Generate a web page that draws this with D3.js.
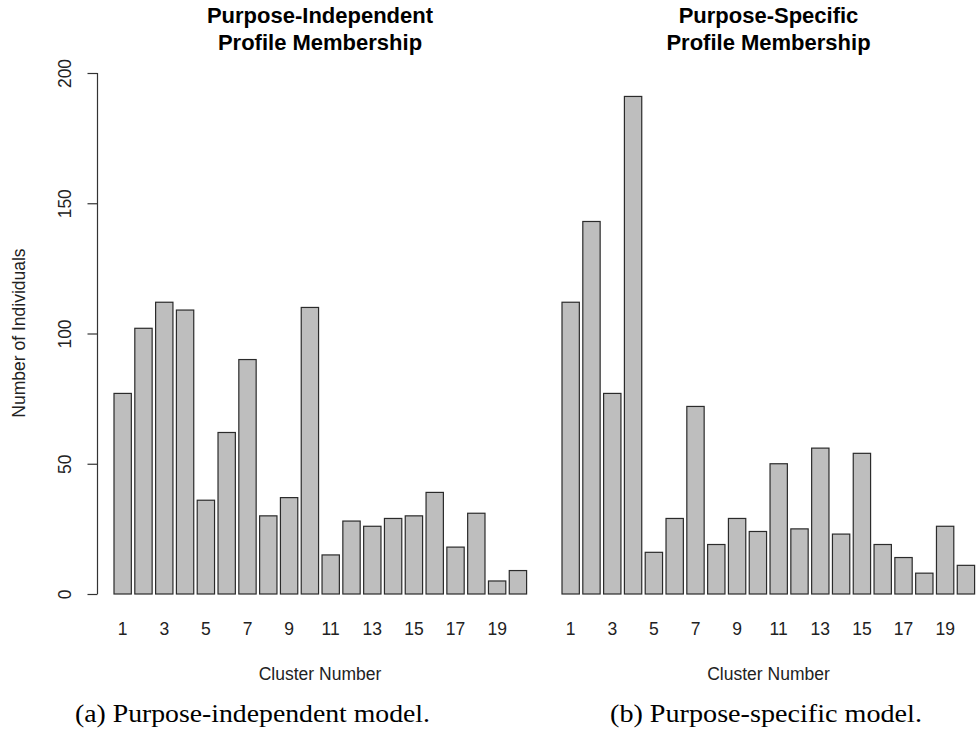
<!DOCTYPE html>
<html>
<head>
<meta charset="utf-8">
<script src="https://cdn.jsdelivr.net/npm/d3@7"></script>
<style>
  html, body { margin: 0; padding: 0; background: #ffffff; }
  svg { display: block; }
</style>
</head>
<body>
<svg id="chart" width="977" height="730"></svg>
<script>
// Cluster sizes for the two clustering models
const clusters = d3.range(1, 21);
const independentCounts = [77, 102, 112, 109, 36, 62, 90, 30, 37, 110, 15, 28, 26, 29, 30, 39, 18, 31, 5, 9];
const specificCounts = [112, 143, 77, 191, 16, 29, 72, 19, 29, 24, 50, 25, 56, 23, 54, 19, 14, 8, 26, 11];
const xTickLabels = [1, 3, 5, 7, 9, 11, 13, 15, 17, 19];
const yTicks = [0, 50, 100, 150, 200];
const titles = [["Purpose-Independent", "Profile Membership"], ["Purpose-Specific", "Profile Membership"]];
const captions = ["(a) Purpose-independent model.", "(b) Purpose-specific model."];
const xLabel = "Cluster Number";
const yLabel = "Number of Individuals";

const svg = d3.select("#chart");
const sans = "'Liberation Sans', Arial, Helvetica, sans-serif";
const serif = "'Liberation Serif', 'Times New Roman', serif";

const y = d3.scaleLinear().domain([0, 200]).range([594, 73]);

const panels = [
  { counts: independentCounts, bandLeft: 114, bandRight: 526.6, center: 320, axis: true,
    title: titles[0], caption: captions[0], capX: 75, capW: 355 },
  { counts: specificCounts, bandLeft: 562, bandRight: 974.6, center: 768.5, axis: false,
    title: titles[1], caption: captions[1], capX: 610, capW: 312 }
];

panels.forEach(p => {
  const g = svg.append("g");

  // bars: width 1, gap 0.2 (bar units)
  const x = d3.scaleBand()
    .domain(clusters)
    .range([p.bandLeft, p.bandRight])
    .paddingInner(0.2 / 1.2)
    .paddingOuter(0);

  g.selectAll("rect.bar")
    .data(p.counts)
    .join("rect")
    .attr("class", "bar")
    .attr("x", (d, i) => x(clusters[i]))
    .attr("y", d => y(d))
    .attr("width", x.bandwidth())
    .attr("height", d => y(0) - y(d))
    .attr("fill", "#bebebe")
    .attr("stroke", "#2b2b2b")
    .attr("stroke-width", 1.2);

  // cluster labels beneath the bars
  const xAxis = g.append("g")
    .attr("transform", "translate(0,614)")
    .call(d3.axisBottom(x).tickValues(xTickLabels).tickSize(0).tickPadding(0));
  xAxis.select(".domain").remove();
  xAxis.selectAll("text")
    .attr("dy", null)
    .attr("y", 21)
    .attr("font-family", sans)
    .attr("font-size", 17.5)
    .attr("fill", "#222");

  // y axis (left panel only)
  if (p.axis) {
    const yAxis = g.append("g")
      .attr("transform", "translate(97.5,0)")
      .call(d3.axisLeft(y).tickValues(yTicks).tickSize(10).tickPadding(0));
    yAxis.select(".domain")
      .attr("d", `M0,${y(200)}V${y(0)}`)
      .attr("stroke", "#333")
      .attr("stroke-width", 1.2);
    yAxis.selectAll(".tick line").attr("stroke", "#333").attr("stroke-width", 1.2);
    yAxis.selectAll(".tick text")
      .attr("transform", "rotate(-90)")
      .attr("x", 0)
      .attr("y", -26.5)
      .attr("dy", null)
      .attr("text-anchor", "middle")
      .attr("font-family", sans)
      .attr("font-size", 17.5)
      .attr("fill", "#222");

    svg.append("text")
      .attr("transform", `translate(25,333) rotate(-90)`)
      .attr("text-anchor", "middle")
      .attr("font-family", sans)
      .attr("font-size", 17.5)
      .attr("fill", "#222")
      .text(yLabel);
  }

  // title (two lines, bold)
  const t = g.append("text")
    .attr("text-anchor", "middle")
    .attr("font-family", sans)
    .attr("font-weight", "bold")
    .attr("font-size", 22)
    .attr("fill", "#000");
  p.title.forEach((line, i) => {
    t.append("tspan").attr("x", p.center).attr("y", 23 + i * 26.5).text(line);
  });

  // x axis title
  g.append("text")
    .attr("x", p.center)
    .attr("y", 680)
    .attr("text-anchor", "middle")
    .attr("font-family", sans)
    .attr("font-size", 17.5)
    .attr("fill", "#222")
    .text(xLabel);

  // caption
  g.append("text")
    .attr("x", p.capX)
    .attr("y", 722)
    .attr("font-family", serif)
    .attr("font-size", 25)
    .attr("fill", "#000")
    .attr("textLength", p.capW)
    .attr("lengthAdjust", "spacingAndGlyphs")
    .text(p.caption);
});
</script>
</body>
</html>
